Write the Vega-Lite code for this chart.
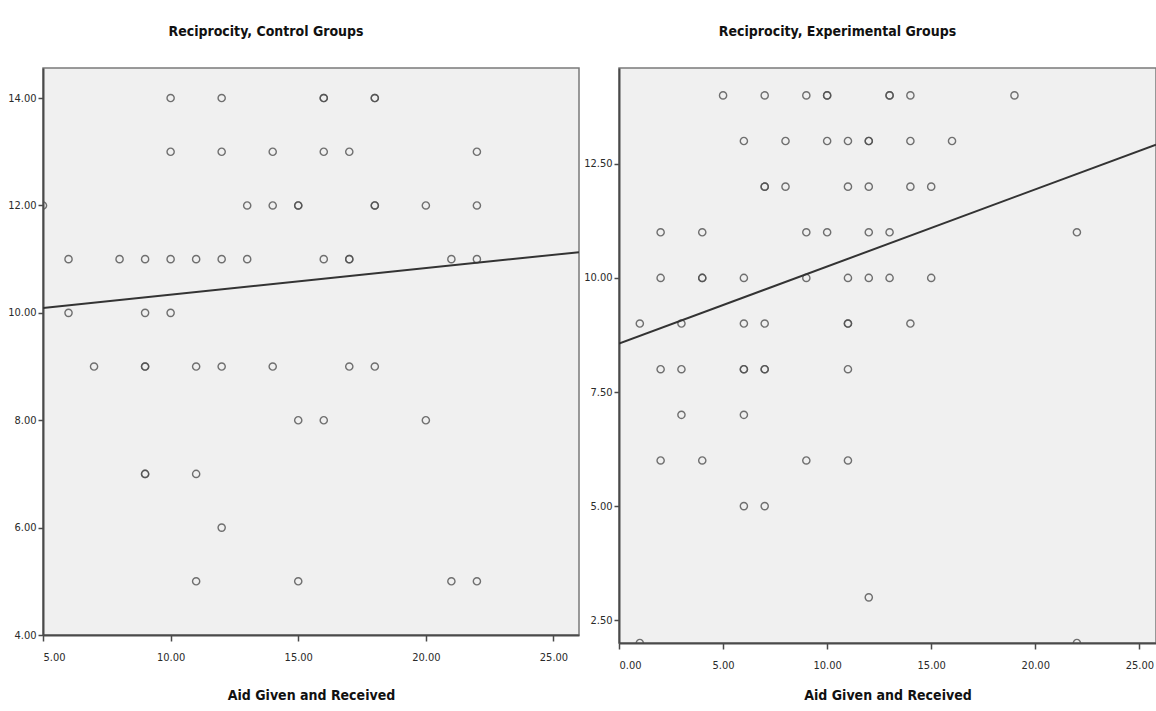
{
  "$schema": "https://vega.github.io/schema/vega-lite/v6.json",
  "padding": {"left": 6, "top": 24, "right": 1, "bottom": 5},
  "background": "white",
  "spacing": 2,
  "config": {
    "view": {"fill": "#f0f0f0", "stroke": "#7a7a7a", "strokeWidth": 1.5},
    "axis": {
      "grid": false,
      "domainColor": "#4a4a4a",
      "domainWidth": 2,
      "tickColor": "#4a4a4a",
      "tickSize": 5,
      "tickWidth": 1.5,
      "labelColor": "#2a2a2a",
      "labelFont": "Liberation Sans Narrow, DejaVu Sans Condensed, sans-serif",
      "labelFontSize": 11,
      "labelPadding": 2,
      "titleFont": "Liberation Sans Narrow, DejaVu Sans Condensed, sans-serif",
      "titleFontSize": 14,
      "titleFontWeight": "bold",
      "titleColor": "#111111"
    },
    "axisX": {"tickSize": 6, "labelPadding": 10},
    "title": {
      "font": "Liberation Sans Narrow, DejaVu Sans Condensed, sans-serif",
      "fontSize": 14,
      "fontWeight": "bold",
      "color": "#111111"
    }
  },
  "datasets": {
    "control": [
      {"aid": 10, "reciprocity": 14}, {"aid": 12, "reciprocity": 14}, {"aid": 16, "reciprocity": 14}, {"aid": 16, "reciprocity": 14}, {"aid": 18, "reciprocity": 14}, {"aid": 18, "reciprocity": 14},
      {"aid": 10, "reciprocity": 13}, {"aid": 12, "reciprocity": 13}, {"aid": 14, "reciprocity": 13}, {"aid": 16, "reciprocity": 13}, {"aid": 17, "reciprocity": 13}, {"aid": 22, "reciprocity": 13},
      {"aid": 5, "reciprocity": 12}, {"aid": 13, "reciprocity": 12}, {"aid": 14, "reciprocity": 12}, {"aid": 15, "reciprocity": 12}, {"aid": 15, "reciprocity": 12}, {"aid": 18, "reciprocity": 12}, {"aid": 18, "reciprocity": 12}, {"aid": 20, "reciprocity": 12}, {"aid": 22, "reciprocity": 12},
      {"aid": 6, "reciprocity": 11}, {"aid": 8, "reciprocity": 11}, {"aid": 9, "reciprocity": 11}, {"aid": 10, "reciprocity": 11}, {"aid": 11, "reciprocity": 11}, {"aid": 12, "reciprocity": 11}, {"aid": 13, "reciprocity": 11}, {"aid": 16, "reciprocity": 11}, {"aid": 17, "reciprocity": 11}, {"aid": 17, "reciprocity": 11}, {"aid": 21, "reciprocity": 11}, {"aid": 22, "reciprocity": 11},
      {"aid": 6, "reciprocity": 10}, {"aid": 9, "reciprocity": 10}, {"aid": 10, "reciprocity": 10},
      {"aid": 7, "reciprocity": 9}, {"aid": 9, "reciprocity": 9}, {"aid": 9, "reciprocity": 9}, {"aid": 11, "reciprocity": 9}, {"aid": 12, "reciprocity": 9}, {"aid": 14, "reciprocity": 9}, {"aid": 17, "reciprocity": 9}, {"aid": 18, "reciprocity": 9},
      {"aid": 15, "reciprocity": 8}, {"aid": 16, "reciprocity": 8}, {"aid": 20, "reciprocity": 8},
      {"aid": 9, "reciprocity": 7}, {"aid": 9, "reciprocity": 7}, {"aid": 11, "reciprocity": 7},
      {"aid": 12, "reciprocity": 6},
      {"aid": 11, "reciprocity": 5}, {"aid": 15, "reciprocity": 5}, {"aid": 21, "reciprocity": 5}, {"aid": 22, "reciprocity": 5}
    ],
    "experimental": [
      {"aid": 5, "reciprocity": 14}, {"aid": 7, "reciprocity": 14}, {"aid": 9, "reciprocity": 14}, {"aid": 10, "reciprocity": 14}, {"aid": 10, "reciprocity": 14}, {"aid": 13, "reciprocity": 14}, {"aid": 13, "reciprocity": 14}, {"aid": 14, "reciprocity": 14}, {"aid": 19, "reciprocity": 14},
      {"aid": 6, "reciprocity": 13}, {"aid": 8, "reciprocity": 13}, {"aid": 10, "reciprocity": 13}, {"aid": 11, "reciprocity": 13}, {"aid": 12, "reciprocity": 13}, {"aid": 12, "reciprocity": 13}, {"aid": 14, "reciprocity": 13}, {"aid": 16, "reciprocity": 13},
      {"aid": 7, "reciprocity": 12}, {"aid": 7, "reciprocity": 12}, {"aid": 8, "reciprocity": 12}, {"aid": 11, "reciprocity": 12}, {"aid": 12, "reciprocity": 12}, {"aid": 14, "reciprocity": 12}, {"aid": 15, "reciprocity": 12},
      {"aid": 2, "reciprocity": 11}, {"aid": 4, "reciprocity": 11}, {"aid": 9, "reciprocity": 11}, {"aid": 10, "reciprocity": 11}, {"aid": 12, "reciprocity": 11}, {"aid": 13, "reciprocity": 11}, {"aid": 22, "reciprocity": 11},
      {"aid": 2, "reciprocity": 10}, {"aid": 4, "reciprocity": 10}, {"aid": 4, "reciprocity": 10}, {"aid": 6, "reciprocity": 10}, {"aid": 9, "reciprocity": 10}, {"aid": 11, "reciprocity": 10}, {"aid": 12, "reciprocity": 10}, {"aid": 13, "reciprocity": 10}, {"aid": 15, "reciprocity": 10},
      {"aid": 1, "reciprocity": 9}, {"aid": 3, "reciprocity": 9}, {"aid": 6, "reciprocity": 9}, {"aid": 7, "reciprocity": 9}, {"aid": 11, "reciprocity": 9}, {"aid": 11, "reciprocity": 9}, {"aid": 14, "reciprocity": 9},
      {"aid": 2, "reciprocity": 8}, {"aid": 3, "reciprocity": 8}, {"aid": 6, "reciprocity": 8}, {"aid": 6, "reciprocity": 8}, {"aid": 7, "reciprocity": 8}, {"aid": 7, "reciprocity": 8}, {"aid": 11, "reciprocity": 8},
      {"aid": 3, "reciprocity": 7}, {"aid": 6, "reciprocity": 7},
      {"aid": 2, "reciprocity": 6}, {"aid": 4, "reciprocity": 6}, {"aid": 9, "reciprocity": 6}, {"aid": 11, "reciprocity": 6},
      {"aid": 6, "reciprocity": 5}, {"aid": 7, "reciprocity": 5},
      {"aid": 12, "reciprocity": 3},
      {"aid": 1, "reciprocity": 2}, {"aid": 22, "reciprocity": 2}
    ],
    "fitControl": [
      {"aid": 5, "reciprocity": 10.09}, {"aid": 26, "reciprocity": 11.13}
    ],
    "fitExperimental": [
      {"aid": 0, "reciprocity": 8.56}, {"aid": 25.8, "reciprocity": 12.92}
    ]
  },
  "hconcat": [
    {
      "width": 536,
      "height": 567,
      "title": {"text": "Reciprocity, Control Groups", "anchor": "middle", "dx": -45, "offset": 29},
      "layer": [
        {
          "data": {"name": "control"},
          "mark": {"type": "point", "shape": "circle", "filled": false, "stroke": "#505050", "strokeWidth": 1.4, "size": 52, "opacity": 0.8, "clip": true},
          "encoding": {
            "x": {"field": "aid", "type": "quantitative", "scale": {"domain": [5, 26], "nice": false, "zero": false},
                  "axis": {"values": [5, 10, 15, 20, 25], "format": ".2f", "title": "Aid Given and Received", "titlePadding": 26}},
            "y": {"field": "reciprocity", "type": "quantitative", "scale": {"domain": [4, 14.56], "nice": false, "zero": false},
                  "axis": {"values": [4, 6, 8, 10, 12, 14], "format": ".2f", "title": null}}
          }
        },
        {
          "data": {"name": "fitControl"},
          "mark": {"type": "line", "color": "#333333", "strokeWidth": 2, "clip": true},
          "encoding": {
            "x": {"field": "aid", "type": "quantitative"},
            "y": {"field": "reciprocity", "type": "quantitative"}
          }
        }
      ]
    },
    {
      "width": 537,
      "height": 575,
      "title": {"text": "Reciprocity, Experimental Groups", "anchor": "middle", "dx": -50, "offset": 29},
      "layer": [
        {
          "data": {"name": "experimental"},
          "mark": {"type": "point", "shape": "circle", "filled": false, "stroke": "#505050", "strokeWidth": 1.4, "size": 52, "opacity": 0.8, "clip": true},
          "encoding": {
            "x": {"field": "aid", "type": "quantitative", "scale": {"domain": [0, 25.8], "nice": false, "zero": false},
                  "axis": {"values": [0, 5, 10, 15, 20, 25], "format": ".2f", "title": "Aid Given and Received", "titlePadding": 18}},
            "y": {"field": "reciprocity", "type": "quantitative", "scale": {"domain": [2, 14.6], "nice": false, "zero": false},
                  "axis": {"values": [2.5, 5, 7.5, 10, 12.5], "format": ".2f", "title": null}}
          }
        },
        {
          "data": {"name": "fitExperimental"},
          "mark": {"type": "line", "color": "#333333", "strokeWidth": 2, "clip": true},
          "encoding": {
            "x": {"field": "aid", "type": "quantitative"},
            "y": {"field": "reciprocity", "type": "quantitative"}
          }
        }
      ]
    }
  ]
}
